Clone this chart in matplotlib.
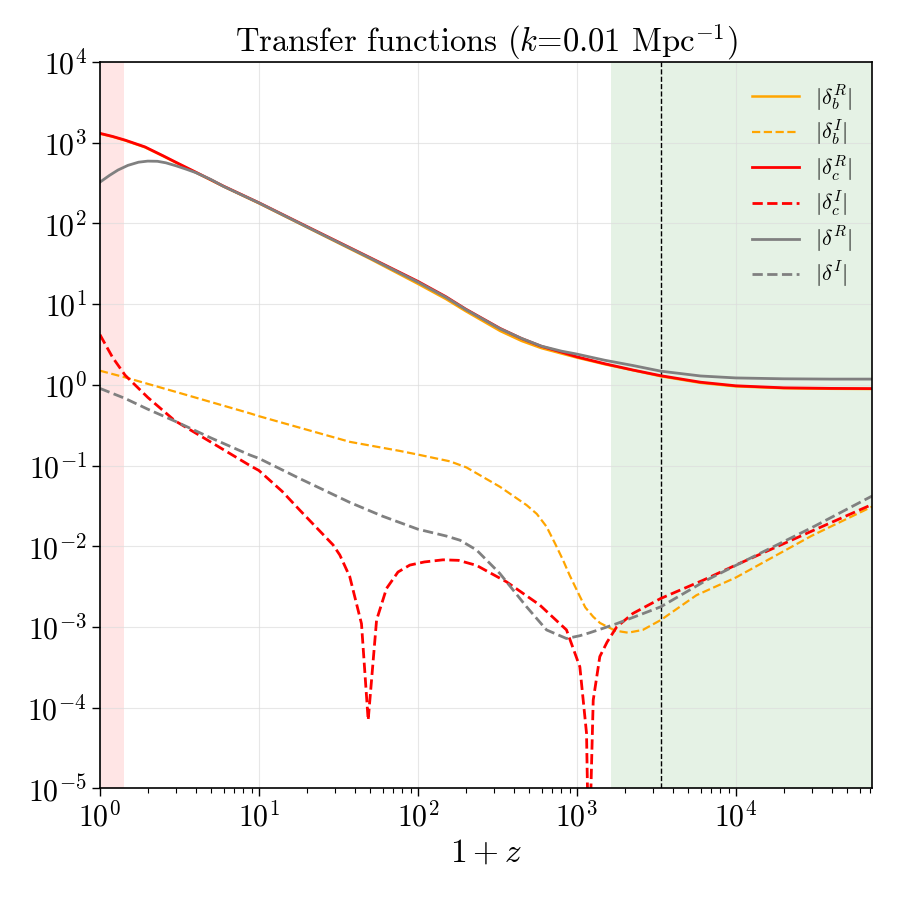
import matplotlib
matplotlib.use("Agg")
import matplotlib.pyplot as plt
from matplotlib.ticker import LogLocator, NullLocator

plt.rcParams['font.family'] = 'serif'
plt.rcParams['font.serif'] = ['cmr10']
plt.rcParams['mathtext.fontset'] = 'cm'
plt.rcParams['axes.formatter.use_mathtext'] = True

# values (1+z, |delta|)
x_c_R = [1, 1.2, 1.44, 1.92, 2.5, 3, 3.96, 6, 10, 20, 50, 100, 150, 200, 330, 450, 600, 800, 1000,
         1500, 2250, 3375, 6000, 1e4, 2e4, 4e4, 7.2e4]
y_c_R = [1310, 1200, 1080, 890, 690, 575, 438, 290, 181, 92, 37.8, 19.2, 12.4, 8.7, 5.0, 3.75, 3.0, 2.55, 2.23,
         1.83, 1.53, 1.30, 1.08, 0.975, 0.92, 0.905, 0.90]

x_b_R = x_c_R
y_b_R = [1300, 1190, 1070, 880, 683, 570, 434, 287, 178, 90, 36.5, 17.9, 11.6, 8.2, 4.65, 3.5, 2.85, 2.45, 2.18,
         1.80, 1.52, 1.28, 1.06, 0.96, 0.91, 0.895, 0.89]

x_m_R = [1, 1.15, 1.3, 1.5, 1.75, 2, 2.3, 2.6, 3, 3.5, 4, 5, 6, 10, 20, 50, 100, 150, 200, 330, 450, 600, 800, 1000,
         1500, 2250, 3375, 6000, 1e4, 2e4, 4e4, 7.2e4]
y_m_R = [325, 395, 460, 525, 575, 593, 590, 565, 520, 470, 428, 350, 288, 180, 91, 37.3, 18.8, 12.2, 8.6, 4.95, 3.76, 3.02, 2.62, 2.41,
         2.02, 1.74, 1.48, 1.29, 1.22, 1.19, 1.18, 1.18]

x_b_I = [1, 1.44, 3, 8.8, 10, 37.3, 77, 100, 159, 202, 328, 483, 560, 645, 730, 820, 900, 1000, 1130, 1267, 1400, 1537,
         1750, 2100, 2600, 3375, 5660, 1e4, 3e4, 7.2e4]
y_b_I = [1.5, 1.24, 0.82, 0.444, 0.41, 0.197, 0.152, 0.137, 0.113, 0.095, 0.0547, 0.0324, 0.0252, 0.0175, 0.0108, 0.0067,
         0.0044, 0.00286, 0.00175, 0.00134, 0.00112, 0.00102, 0.0009, 0.00085, 0.00092, 0.00122, 0.00248, 0.0041, 0.0135, 0.031]

x_c_I = [1, 1.2, 1.44, 2, 2.96, 5, 8.8, 10, 14, 18.1, 29.3, 32.3, 37.3, 44.2, 48.7, 55, 63.5, 75, 89, 110, 144, 180, 234,
         361, 585, 861, 1045, 1151, 1190, 1268, 1395, 1550, 1780, 2250, 3375, 6230, 1e4, 3e4, 7.2e4]
y_c_I = [4.2, 2.2, 1.32, 0.7, 0.36, 0.195, 0.1, 0.087, 0.048, 0.028, 0.0104, 0.0078, 0.0042, 0.0011, 7e-5, 0.00122, 0.003, 0.0048,
         0.00585, 0.0064, 0.0068, 0.0067, 0.0058, 0.00363, 0.00187, 0.00092, 0.00032, 4.8e-5, 1e-6, 1.24e-4, 4.3e-4, 6.5e-4,
         1.0e-3, 1.47e-3, 2.26e-3, 3.8e-3, 5.85e-3, 0.0154, 0.033]

x_m_I = [1, 1.44, 2, 2.96, 5, 8.8, 10, 18.1, 37.3, 60, 100, 151, 184, 234, 328, 483, 645, 861, 1045, 1208, 1500, 1780,
         3375, 6540, 1e4, 3e4, 7.2e4]
y_m_I = [0.905, 0.68, 0.5, 0.356, 0.22, 0.135, 0.123, 0.069, 0.035, 0.0236, 0.0163, 0.0134, 0.0119, 0.009, 0.0046, 0.00178,
         0.00092, 0.00072, 0.00078, 0.00085, 0.00098, 0.0011, 0.00178, 0.0038, 0.0058, 0.017, 0.042]

late_span = (1, 1.415)
early_span = (1637, 7.2e4)
z_eq = 3375

fig = plt.figure(figsize=(9, 9), dpi=100)
ax = fig.add_axes([0.111, 0.124, 0.858, 0.807])

ax.axvspan(*late_span, color='red', alpha=0.1, lw=0)
ax.axvspan(*early_span, color='green', alpha=0.1, lw=0)
ax.axvline(z_eq, color='black', ls='--', lw=1)

ax.plot(x_b_R, y_b_R, color='orange', lw=1.8, label=r'$|\delta_b^R|$')
ax.plot(x_b_I, y_b_I, color='orange', lw=1.6, ls='--', label=r'$|\delta_b^I|$')
ax.plot(x_c_R, y_c_R, color='red', lw=2, label=r'$|\delta_c^R|$')
ax.plot(x_c_I, y_c_I, color='red', lw=2, ls='--', label=r'$|\delta_c^I|$')
ax.plot(x_m_R, y_m_R, color='gray', lw=2, label=r'$|\delta^R|$')
ax.plot(x_m_I, y_m_I, color='gray', lw=2, ls='--', label=r'$|\delta^I|$')

ax.set_xscale('log')
ax.set_yscale('log')
ax.set_xlim(1, 7.2e4)
ax.set_ylim(1e-5, 1e4)
ax.yaxis.set_major_locator(LogLocator(base=10, numticks=20))
ax.yaxis.set_minor_locator(NullLocator())
ax.grid(True, which='major', color='#dddddd', lw=0.8, alpha=0.7)

ax.tick_params(axis='both', which='major', labelsize=21.5, length=6, width=1)
ax.tick_params(axis='both', which='minor', length=3.5, width=0.8)
for s in ax.spines.values():
    s.set_linewidth(1.2)

ax.set_xlabel(r'$1+z$', fontsize=24)
ax.set_title(r'Transfer functions ($k$=0.01 Mpc$^{-1}$)', fontsize=23.5)
ax.legend(loc='upper right', frameon=False, fontsize=16, handlelength=2.1,
          handletextpad=0.7, labelspacing=0.25)

fig.savefig('out.png', dpi=100)
